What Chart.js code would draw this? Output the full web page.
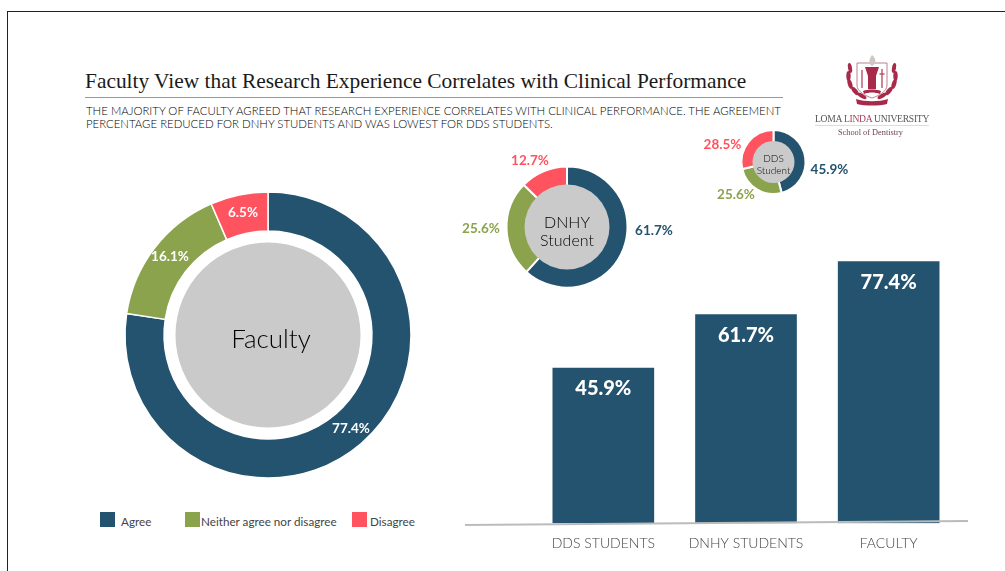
<!DOCTYPE html>
<html><head><meta charset="utf-8">
<script src="https://cdn.jsdelivr.net/npm/chart.js@4"></script>
<style>
html,body{margin:0;padding:0;background:#fff;width:1005px;height:571px;overflow:hidden;position:relative}
#frame{position:absolute;left:7px;top:11px;width:1100px;height:700px;border:1px solid #222;box-sizing:border-box}
.t{position:absolute;white-space:nowrap}
#title{left:85px;top:69px;font:21.4px "Liberation Serif",serif;color:#1a1a1a}
#rule{position:absolute;left:85px;top:97px;width:698px;height:1px;background:#999}
#sub{left:86px;top:104px;font:300 11.4px/13px Lato,sans-serif;color:#000}
canvas{position:absolute}
.leg{position:absolute;width:15px;height:15px}
.lt{font:11.7px Lato,sans-serif;color:#444}
.logo1{left:815px;top:113px;font:9.6px "Liberation Serif",serif;color:#555;letter-spacing:-.25px;filter:blur(.3px)}
.logo1 b{font-weight:normal;color:#a5405a}
.logo2{left:838px;top:128px;font:8.3px "Liberation Serif",serif;color:#6d4250;filter:blur(.3px)}
#logorule{position:absolute;left:815px;top:125px;width:114px;height:1px;background:#ddd}
#axis{position:absolute;left:465px;top:522px;width:503px;height:2px;background:#bbb;box-shadow:0 4px 0 #fff;transform:rotate(-0.45deg);transform-origin:center}
</style></head><body>
<div id="frame"></div>
<div class="t" id="title">Faculty View that Research Experience Correlates with Clinical Performance</div>
<div id="rule"></div>
<div class="t" id="sub">THE MAJORITY OF FACULTY AGREED THAT RESEARCH EXPERIENCE CORRELATES WITH CLINICAL PERFORMANCE. THE AGREEMENT<br>PERCENTAGE REDUCED FOR DNHY STUDENTS AND WAS LOWEST FOR DDS STUDENTS.</div>
<svg style="position:absolute;left:845px;top:55px;filter:blur(.35px)" width="54" height="51" viewBox="0 0 54 51">
<g fill="#a82a4a">
<ellipse cx="5" cy="13" rx="2" ry="5" transform="rotate(-10 5 13)"/><ellipse cx="3.5" cy="21" rx="2.2" ry="5"/><ellipse cx="5" cy="29" rx="2.2" ry="5" transform="rotate(-18 5 29)"/><ellipse cx="10" cy="36" rx="2.2" ry="5" transform="rotate(-40 10 36)"/><ellipse cx="17" cy="41" rx="2" ry="5" transform="rotate(-60 17 41)"/>
<ellipse cx="49" cy="13" rx="2" ry="5" transform="rotate(10 49 13)"/><ellipse cx="50.5" cy="21" rx="2.2" ry="5"/><ellipse cx="49" cy="29" rx="2.2" ry="5" transform="rotate(18 49 29)"/><ellipse cx="44" cy="36" rx="2.2" ry="5" transform="rotate(40 44 36)"/><ellipse cx="37" cy="41" rx="2" ry="5" transform="rotate(60 37 41)"/>
</g>
<path d="M12 8H42V30C42 37 33 41 27 43C21 41 12 37 12 30Z" fill="#fff" stroke="#b9828f" stroke-width="1"/>
<path d="M20 12H34L31 21V34H23V21Z" fill="#a82a4a"/>
<path d="M37 14V33M34.5 19H39.500" stroke="#b9546c" stroke-width="1.400" fill="none"/>
<path d="M17 15V33" stroke="#b9546c" stroke-width="1.400" fill="none"/>
<path d="M18 36C23 34 31 34 36 36L35 39C30 37 24 37 19 39Z" fill="#a82a4a"/>
<path d="M27 0C32 4 31 9 27 11C23 9 24 4 27 0Z" fill="#cfc6c6"/>
<path d="M11 44C20 47 34 47 43 44L42 49C34 51 20 51 12 49Z" fill="#a82a4a"/>
</svg>
<div class="t logo1">LOMA <b>LINDA</b> UNIVERSITY</div>
<div id="logorule"></div>
<div class="t logo2">School of Dentistry</div>
<div class="leg" style="left:100px;top:512px;background:#23536f"></div><div class="t lt" style="left:121px;top:514px">Agree</div>
<div class="leg" style="left:185px;top:512px;background:#8ba34c"></div><div class="t lt" style="left:201px;top:514px">Neither agree nor disagree</div>
<div class="leg" style="left:352px;top:512px;background:#ff545f"></div><div class="t lt" style="left:370px;top:514px">Disagree</div>
<canvas id="fac" style="left:118px;top:185px" width="300" height="300"></canvas>
<canvas id="bars" style="left:532px;top:219px" width="428" height="336"></canvas>
<canvas id="dnhy" style="left:447px;top:147px" width="240" height="160"></canvas>
<canvas id="dds" style="left:691px;top:117px" width="165" height="90"></canvas>
<div id="axis"></div>
<script>
const responses=["Agree","Neither agree nor disagree","Disagree"];
const sliceColors=["#23536f","#8ba34c","#ff545f"];
const facultyValues=[77.4,16.1,6.5];
const dnhyValues=[61.7,25.6,12.7];
const ddsValues=[45.9,25.6,28.5];
const barCategories=["DDS STUDENTS","DNHY STUDENTS","FACULTY"];
const barValues=[45.9,61.7,77.4];
Chart.defaults.animation=false;Chart.defaults.responsive=false;
function donut(id,values,cfg){
 new Chart(document.getElementById(id),{type:'doughnut',
  data:{labels:responses,datasets:[{data:values,backgroundColor:sliceColors,borderColor:'#fff',borderWidth:cfg.gap}]},
  options:{cutout:cfg.cutout,radius:cfg.r,layout:{padding:0},plugins:{legend:{display:false},tooltip:{enabled:false}}},
  plugins:[{id:'c',afterDatasetsDraw(ch){
   const c=ch.ctx,m=ch.getDatasetMeta(0).data[0],x=m.x,y=m.y;
   c.save();c.fillStyle='#cacaca';c.beginPath();c.arc(x,y,cfg.core,0,Math.PI*2);c.fill();
   c.fillStyle='#000';c.textAlign='center';c.textBaseline='middle';c.font=cfg.centerFont;
   cfg.center.forEach((s,i)=>c.fillText(s,x+cfg.off[0],y+cfg.off[1]+(i-(cfg.center.length-1)/2)*cfg.lh));
   c.font=cfg.labelFont;
   cfg.labels.forEach((l,i)=>{
     const a=ch.getDatasetMeta(0).data[i];
     c.fillStyle=cfg.inside?'#fff':sliceColors[i];
     c.fillText(values[i].toFixed(1)+'%',a.x+l[0],a.y+l[1]);
   });
   c.restore();}}]});
}
donut('fac',facultyValues,{r:143,cutout:108.5,gap:1.5,core:92.500,off:[3,5],center:['Faculty'],lh:0,centerFont:'300 26px Lato,sans-serif',labelFont:'bold 13.5px Lato,sans-serif',inside:true,labels:[[83,94],[-98,-78],[-25,-122]]});
donut('dnhy',dnhyValues,{r:60.500,cutout:45.5,gap:2,core:42.5,off:[0,4.5],center:['DNHY','Student'],lh:18,centerFont:'300 16px Lato,sans-serif',labelFont:'bold 13.5px Lato,sans-serif',labels:[[87,4],[-86,2],[-37,-66]]});
donut('dds',ddsValues,{r:32,cutout:24,gap:2,core:21,off:[0,3],center:['DDS','Student'],lh:11.5,centerFont:'300 10px Lato,sans-serif',labelFont:'bold 13.5px Lato,sans-serif',labels:[[56,8],[-37.5,33],[-51,-17]]});
new Chart(document.getElementById('bars'),{type:'bar',
 data:{labels:barCategories,datasets:[{data:barValues,backgroundColor:'#23536f',barThickness:101}]},
 options:{layout:{padding:0},
  scales:{x:{offset:true,grid:{display:false},border:{display:false},ticks:{color:'#444',font:{family:'Lato',size:14,weight:'300'},padding:3.5,maxRotation:0}},
   y:{display:false,min:0,max:90}},
  plugins:{legend:{display:false},tooltip:{enabled:false}}},
 plugins:[{id:'v',afterDatasetsDraw(ch){const c=ch.ctx;c.save();c.fillStyle='#fff';c.font='900 20px Lato,sans-serif';c.textAlign='center';c.textBaseline='middle';
  ch.getDatasetMeta(0).data.forEach((b,i)=>c.fillText(barValues[i].toFixed(1)+'%',b.x,b.y+20.5));c.restore();}}]});
</script>
</body></html>
